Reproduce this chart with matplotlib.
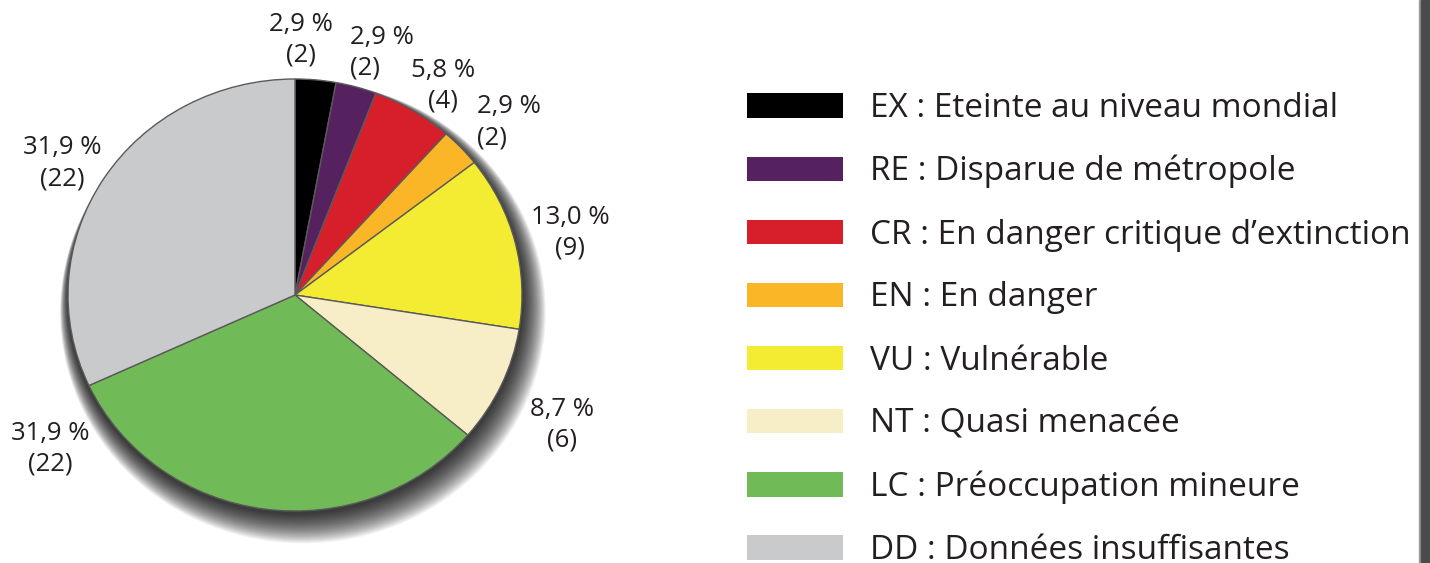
import numpy as np
import matplotlib
matplotlib.use('Agg')
from matplotlib import pyplot as plt
from matplotlib.patches import Ellipse, Patch, Rectangle

codes = ['EX', 'RE', 'CR', 'EN', 'VU', 'NT', 'LC', 'DD']
names = ['Eteinte au niveau mondial', 'Disparue de métropole',
         'En danger critique d\u2019extinction', 'En danger', 'Vulnérable',
         'Quasi menacée', 'Préoccupation mineure', 'Données insuffisantes']
counts = [2, 2, 4, 2, 9, 6, 22, 22]
colors = ['#000000', '#55215f', '#d71f2b', '#fbb628',
          '#f4ec33', '#f7edc7', '#70bb58', '#c8cacb']

# label anchor points, in pie radius units
label_xy = [(0.026, 1.18), (0.242, 1.12), (0.652, 0.967), (0.802, 0.80),
            (1.211, 0.29), (1.176, -0.60), (-1.079, -0.71), (-1.026, 0.61)]
label_ha = ['center', 'left', 'center', 'left',
            'center', 'center', 'center', 'center']

plt.rcParams['font.family'] = ['Open Sans', 'DejaVu Sans']
text_color = '#231f20'

W, H = 1430, 563
fig = plt.figure(figsize=(W / 100, H / 100), dpi=100)

# pie is a bit wider than tall in the original
cx, cy, rx, ry = 295, 268, 227, 216
ax = fig.add_axes([(cx - rx) / W, (cy - ry) / H, 2 * rx / W, 2 * ry / H])

# soft drop shadow: stacked faint ellipses, hidden at the top,
# spreading towards the bottom right
n = 30
for i in range(n):
    g = 0.07 * (1 - i / n)
    sh = Ellipse((0.5 * g, -g - 0.01), 2 * (1 + g), 2 * (1 + g),
                 facecolor='black', edgecolor='none', alpha=0.042,
                 zorder=0, clip_on=False)
    ax.add_patch(sh)

wedges, _ = ax.pie(counts, colors=colors, startangle=90, counterclock=False,
                   wedgeprops=dict(edgecolor='#5a5a5a', linewidth=1.0, zorder=2))
ax.set_xlim(-1, 1)
ax.set_ylim(-1, 1)
ax.set_aspect('auto')
ax.axis('off')

total = sum(counts)
for c, (x, y), ha in zip(counts, label_xy, label_ha):
    pct = '{:.1f}'.format(100 * c / total).replace('.', ',')
    ax.text(x, y, pct + ' %\n(' + str(c) + ')', ha=ha, va='center',
            multialignment=ha, fontsize=18.5, color=text_color, linespacing=1.3)

handles = [Patch(facecolor=col, edgecolor='none') for col in colors]
labels = [code + ' : ' + name for code, name in zip(codes, names)]
fs = 24
fig.legend(handles, labels, loc='upper left',
           bbox_to_anchor=(747 / W, (H - 92) / H), frameon=False,
           fontsize=fs, handlelength=2.88, handleheight=0.75,
           handletextpad=0.81, labelspacing=0.9, borderpad=0,
           borderaxespad=0, labelcolor=text_color)

# dark page edge on the right
fig.patches.append(Rectangle((1419 / W, 0), 3 / W, 1, transform=fig.transFigure,
                             color='#9a9a9a', zorder=5))
fig.patches.append(Rectangle((1421 / W, 0), 9 / W, 1, transform=fig.transFigure,
                             color='#4b4b4b', zorder=6))

fig.savefig('out.png', dpi=100)
